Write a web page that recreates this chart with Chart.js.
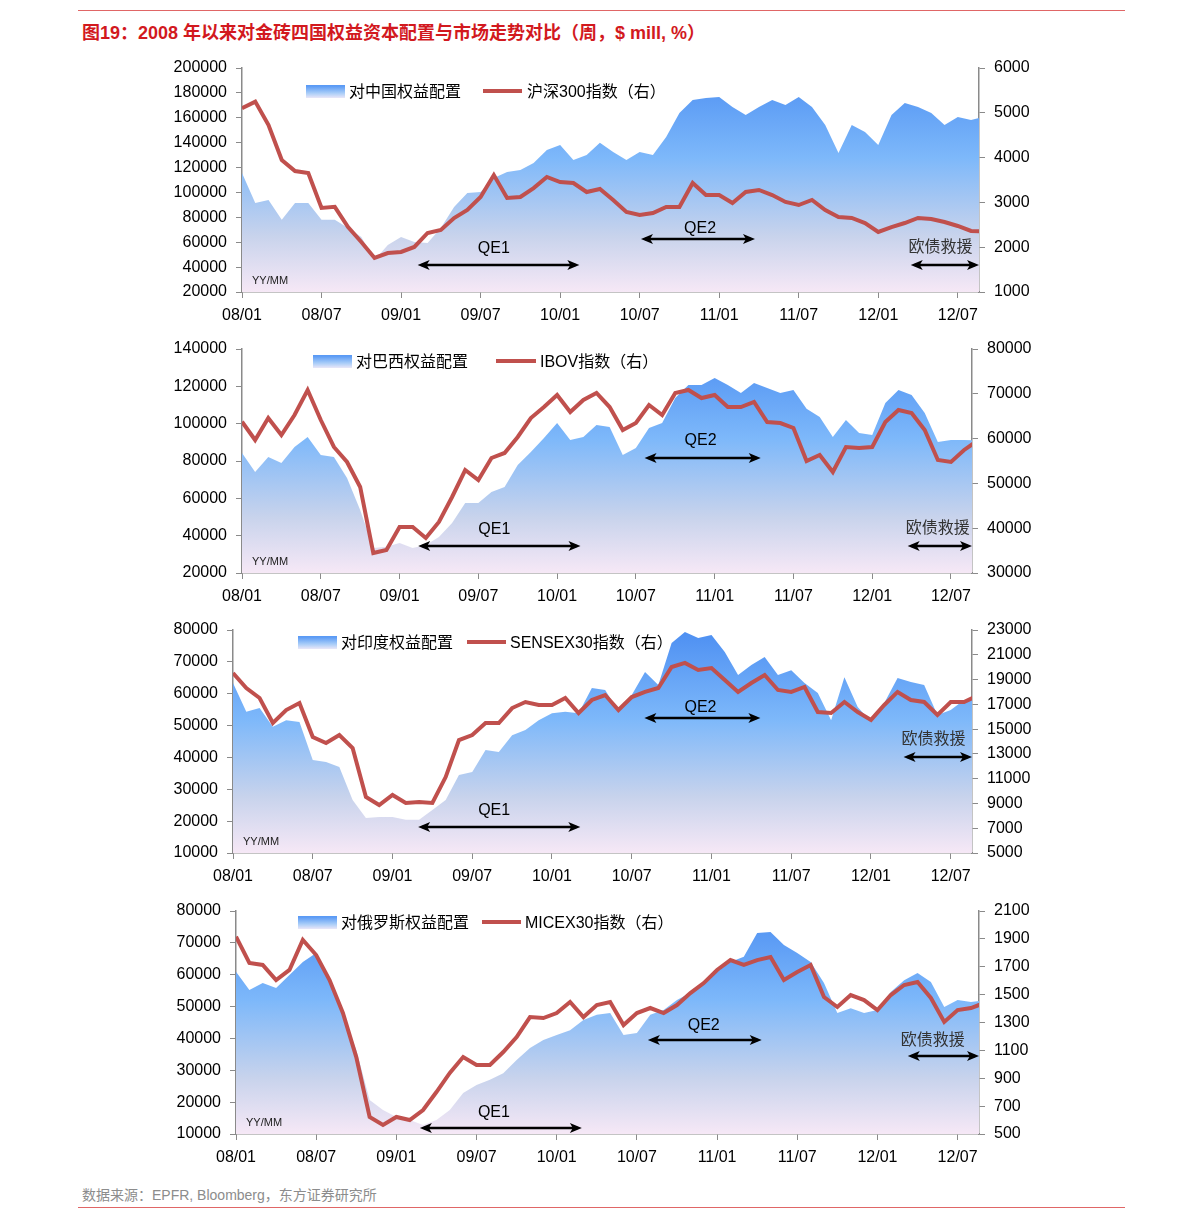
<!DOCTYPE html>
<html>
<head>
<meta charset="utf-8">
<script src="https://cdn.jsdelivr.net/npm/chart.js@4.4.1/dist/chart.umd.min.js"></script>
<style>
  body { margin: 0; background: #fff; width: 1191px; height: 1220px; position: relative; overflow: hidden;
         font-family: "Liberation Sans", "Noto Sans CJK SC", sans-serif; }
  .rule { position: absolute; left: 78px; width: 1047px; height: 1px; background: #e06666; }
  #title { position: absolute; left: 82px; top: 18px; font-size: 18px; font-weight: bold; color: #d2191e; white-space: nowrap; }
  #source { position: absolute; left: 82px; top: 1184px; font-size: 14px; color: #8c8c8c; white-space: nowrap; }
  canvas { position: absolute; left: 0; }
</style>
</head>
<body>
<div class="rule" style="top:10px"></div>
<div id="title">图19：2008 年以来对金砖四国权益资本配置与市场走势对比（周，$ mill, %）</div>
<canvas id="c1"></canvas>
<canvas id="c2"></canvas>
<canvas id="c3"></canvas>
<canvas id="c4"></canvas>
<div id="source">数据来源：EPFR, Bloomberg，东方证券研究所</div>
<div class="rule" style="top:1207px"></div>

<script>
// x = month index, 0 = 2008/01 ... 56 = 2012/09
const tickMonths = [0, 6, 12, 18, 24, 30, 36, 42, 48, 54];
const tickLabels = ["08/01", "08/07", "09/01", "09/07", "10/01", "10/07", "11/01", "11/07", "12/01", "12/07"];

// 权益配置 ($ mill), monthly readings
const chinaFlow = [115600, 91500, 94000, 78000, 91500, 91500, 78000, 78000, 71400, 64200,
  45700, 57800, 64200, 60200, 59400, 71400, 88300, 99500, 100300, 111600,
  116400, 118000, 123600, 134100, 138100, 126100, 130100, 140000, 132500, 126100,
  132500, 130100, 144600, 163800, 174300, 175900, 176700, 168600, 162200, 168600,
  174300, 170300, 176700, 168600, 154200, 131700, 154200, 148600, 138100, 162200,
  171900, 168600, 163800, 154200, 160600, 158200, 161000];
const brazilFlow = [84300, 74100, 82100, 78900, 87500, 92900, 83200, 82100, 70900, 53800,
  33400, 34000, 36100, 33400, 35000, 39300, 46800, 57500, 57500, 63400,
  66100, 77900, 84800, 92300, 100400, 91300, 92900, 99300, 98200, 83200,
  87000, 97700, 100400, 113800, 120700, 120700, 124500, 120700, 116400, 121800,
  119100, 116400, 118000, 108000, 103600, 92900, 102000, 95000, 93900, 111100,
  118000, 115400, 105700, 90200, 91300, 91300, 91000];
const indiaFlow = [63400, 54300, 55500, 49600, 51700, 51100, 39200, 38600, 37000, 26600,
  21000, 21300, 21300, 20400, 20400, 23500, 26600, 34500, 35400, 42300,
  41700, 47000, 48600, 51700, 53900, 54300, 53900, 61800, 61200, 54300,
  59600, 66800, 62700, 75900, 79400, 77500, 78400, 73100, 65900, 69000,
  71500, 65900, 67400, 63400, 60200, 51700, 65200, 55800, 51100, 57100,
  64900, 63700, 62700, 53300, 54900, 58000, 58000];
const russiaFlow = [60900, 55200, 57400, 55800, 59900, 64000, 66800, 59000, 47400, 36400,
  20700, 17500, 15300, 14400, 12800, 14400, 17500, 22900, 25400, 27000,
  29100, 33200, 37000, 39500, 41100, 42600, 45800, 47400, 48000, 41100,
  41700, 47400, 48900, 52100, 54300, 57400, 60900, 64000, 65600, 73100,
  73400, 69300, 66800, 64000, 57400, 48000, 49500, 48000, 48900, 54600,
  58300, 60500, 57700, 49900, 52100, 51400, 52000];

// 指数 (右轴)
const hs300 = [5100, 5250, 4728, 3946, 3700, 3656, 2875, 2900, 2450, 2116,
  1760, 1870, 1893, 2005, 2317, 2384, 2652, 2830, 3120, 3610,
  3100, 3120, 3320, 3567, 3455, 3433, 3232, 3300, 3054, 2786,
  2719, 2763, 2900, 2900, 3433, 3165, 3165, 2987, 3232, 3277,
  3165, 3010, 2942, 3054, 2830, 2674, 2652, 2540, 2340, 2450,
  2540, 2652, 2630, 2563, 2474, 2362, 2350];
const ibov = [63770, 59690, 64600, 60800, 65270, 70850, 64150, 58130, 54780, 49200,
  34470, 35140, 40270, 40270, 37810, 41390, 46970, 52990, 50760, 55670,
  56790, 60360, 64600, 67050, 69730, 65940, 68620, 70180, 67050, 61920,
  63480, 67500, 65270, 70180, 70850, 69060, 69730, 67050, 67050, 68170,
  63700, 63480, 62370, 55000, 56340, 52550, 58130, 57900, 58130, 63700,
  66380, 65710, 61920, 55230, 54780, 57460, 59500];
const sensex = [19530, 18320, 17510, 15490, 16540, 17110, 14360, 13880, 14520, 13470,
  9520, 8870, 9680, 9040, 9120, 9040, 11130, 14120, 14520, 15490,
  15490, 16700, 17190, 16950, 16950, 17510, 16300, 17350, 17750, 16540,
  17590, 18000, 18320, 20010, 20340, 19770, 19930, 18960, 18000, 18720,
  19370, 18160, 18000, 18400, 16380, 16300, 17190, 16380, 15740, 16950,
  18000, 17350, 17190, 16140, 17190, 17190, 17700];
const micex = [1916, 1727, 1713, 1605, 1677, 1892, 1784, 1605, 1368, 1052,
  622, 565, 622, 600, 672, 801, 938, 1052, 995, 995,
  1088, 1196, 1339, 1332, 1368, 1447, 1339, 1425, 1447, 1282,
  1368, 1404, 1368, 1425, 1511, 1583, 1677, 1748, 1713, 1748,
  1770, 1605, 1662, 1713, 1483, 1411, 1497, 1461, 1389, 1497,
  1569, 1590, 1476, 1304, 1389, 1404, 1440];

const FONT = '"Liberation Sans", "Noto Sans CJK SC", sans-serif';
const PAD_TOP = 22;
const X_AXIS_H = 40;
Chart.defaults.font.family = FONT;
Chart.defaults.color = "#000";

const toPoints = arr => arr.map((v, i) => ({ x: i, y: v }));

function areaGradient(ctx) {
  const area = ctx.chart.chartArea;
  if (!area) return "#8cbcf5";
  const g = ctx.chart.ctx.createLinearGradient(0, area.top, 0, area.bottom);
  g.addColorStop(0, "#4d8ff2");
  g.addColorStop(0.4, "#7db8fa");
  g.addColorStop(0.75, "#c8d3ec");
  g.addColorStop(1, "#f6e8f6");
  return g;
}

function arrow(c, x1, x2, y) {
  const hl = 12, hw = 5;
  c.save();
  c.strokeStyle = "#000";
  c.fillStyle = "#000";
  c.lineWidth = 2.5;
  c.beginPath();
  c.moveTo(x1 + 4, y);
  c.lineTo(x2 - 4, y);
  c.stroke();
  c.beginPath();
  c.moveTo(x1, y); c.lineTo(x1 + hl, y - hw); c.lineTo(x1 + hl - 3, y); c.lineTo(x1 + hl, y + hw); c.closePath();
  c.fill();
  c.beginPath();
  c.moveTo(x2, y); c.lineTo(x2 - hl, y - hw); c.lineTo(x2 - hl + 3, y); c.lineTo(x2 - hl, y + hw); c.closePath();
  c.fill();
  c.restore();
}

// legend + QE / 欧债救援 notes
const decorPlugin = {
  id: "decor",
  afterDatasetsDraw(chart, args, opts) {
    const c = chart.ctx;
    const area = chart.chartArea;
    const xs = chart.scales.x, ys = chart.scales.y;
    // notes
    opts.notes.forEach(n => {
      arrow(c, xs.getPixelForValue(n.m1), xs.getPixelForValue(n.m2), ys.getPixelForValue(n.v));
      c.save();
      c.font = "16px " + FONT;
      c.fillStyle = n.color || "#000";
      c.textAlign = "center";
      c.textBaseline = "middle";
      c.fillText(n.text, xs.getPixelForValue(n.lm), ys.getPixelForValue(n.lv));
      c.restore();
    });
    // YY/MM
    c.save();
    c.font = "11px " + FONT;
    c.fillStyle = "#222";
    c.textBaseline = "middle";
    c.fillText("YY/MM", area.left + 10, area.bottom - 11);
    // legend
    const L = opts.legend;
    const ly = area.top + L.dy;
    const g = c.createLinearGradient(0, ly - 7, 0, ly + 6);
    g.addColorStop(0, "#5a9af5");
    g.addColorStop(0.55, "#a9cdf8");
    g.addColorStop(1, "#f7ecf8");
    c.fillStyle = g;
    c.fillRect(L.box, ly - 8, 39, 13);
    c.font = "16px " + FONT;
    c.fillStyle = "#000";
    c.textBaseline = "middle";
    c.fillText(chart.data.datasets[1].label, L.boxText, ly);
    c.strokeStyle = "#c0504d";
    c.lineWidth = 4;
    c.beginPath();
    c.moveTo(L.line1, ly - 2);
    c.lineTo(L.line2, ly - 2);
    c.stroke();
    c.fillText(chart.data.datasets[0].label, L.lineText, ly);
    c.restore();
  }
};

function makePanel(id, p) {
  const cv = document.getElementById(id);
  cv.width = 1191;
  cv.height = (p.bottom - p.top) + PAD_TOP + X_AXIS_H;
  cv.style.top = (p.top - PAD_TOP) + "px";
  const axisGrid = { drawOnChartArea: false, tickLength: 6, color: "#8a8a8a", lineWidth: 1 };
  const axisBorder = { color: "#8a8a8a", width: 1.5 };
  const tickFont = { size: 16, family: FONT };
  new Chart(cv, {
    type: "line",
    plugins: [decorPlugin],
    data: {
      datasets: [
        { label: p.indexName, data: toPoints(p.index), yAxisID: "y1", borderColor: "#c0504d",
          borderWidth: 4, pointRadius: 0, fill: false, tension: 0, order: 1 },
        { label: p.flowName, data: toPoints(p.flow), yAxisID: "y", fill: "start",
          backgroundColor: areaGradient, borderColor: "rgba(0,0,0,0)", borderWidth: 0,
          pointRadius: 0, tension: 0, order: 2 }
      ]
    },
    options: {
      responsive: false,
      animation: false,
      layout: { padding: { top: PAD_TOP, left: 0, right: 0, bottom: 0 } },
      plugins: {
        legend: { display: false },
        tooltip: { enabled: false },
        decor: { legend: p.legend, notes: p.notes }
      },
      scales: {
        x: {
          type: "linear", min: 0, max: 55.6,
          afterBuildTicks: s => { s.ticks = tickMonths.map(v => ({ value: v })); },
          ticks: { callback: (v, i) => tickLabels[i], font: tickFont, color: "#000", padding: 8,
                   maxRotation: 0, autoSkip: false },
          grid: axisGrid, border: axisBorder,
          afterFit: s => { s.height = X_AXIS_H; }
        },
        y: {
          position: "left", min: p.left.min, max: p.left.max,
          ticks: { stepSize: p.left.step, callback: v => String(v), font: tickFont, color: "#000", padding: 9 },
          grid: axisGrid, border: axisBorder,
          afterFit: s => { s.width = p.x0; }
        },
        y1: {
          position: "right", min: p.right.min, max: p.right.max,
          ticks: { stepSize: p.right.step, callback: v => String(v), font: tickFont, color: "#000", padding: 9 },
          grid: axisGrid, border: axisBorder,
          afterFit: s => { s.width = 1191 - p.x1; }
        }
      }
    }
  });
}

makePanel("c1", {
  top: 68, bottom: 292, x0: 242, x1: 979,
  flow: chinaFlow, index: hs300, flowName: "对中国权益配置", indexName: "沪深300指数（右）",
  left: { min: 20000, max: 200000, step: 20000 }, right: { min: 1000, max: 6000, step: 1000 },
  legend: { dy: 25, box: 306, boxText: 349, line1: 483, line2: 522, lineText: 527 },
  notes: [
    { m1: 13.25, m2: 25.45, v: 41700, text: "QE1", lm: 19.0, lv: 54500 },
    { m1: 30.1, m2: 38.7, v: 62600, text: "QE2", lm: 34.56, lv: 70600 },
    { m1: 50.45, m2: 55.6, v: 41700, text: "欧债救援", lm: 52.7, lv: 55350, color: "#333" }
  ]
});
makePanel("c2", {
  top: 349, bottom: 573, x0: 242, x1: 972,
  flow: brazilFlow, index: ibov, flowName: "对巴西权益配置", indexName: "IBOV指数（右）",
  left: { min: 20000, max: 140000, step: 20000 }, right: { min: 30000, max: 80000, step: 10000 },
  legend: { dy: 14, box: 313, boxText: 356, line1: 496, line2: 536, lineText: 540 },
  notes: [
    { m1: 13.42, m2: 25.78, v: 34470, text: "QE1", lm: 19.22, lv: 43040 },
    { m1: 30.66, m2: 39.51, v: 81610, text: "QE2", lm: 34.93, lv: 90720 },
    { m1: 50.7, m2: 55.6, v: 34470, text: "欧债救援", lm: 53.0, lv: 43570, color: "#333" }
  ]
});
makePanel("c3", {
  top: 630, bottom: 853, x0: 233, x1: 972,
  flow: indiaFlow, index: sensex, flowName: "对印度权益配置", indexName: "SENSEX30指数（右）",
  left: { min: 10000, max: 80000, step: 10000 }, right: { min: 5000, max: 23000, step: 2000 },
  legend: { dy: 14, box: 298, boxText: 341, line1: 467, line2: 506, lineText: 510 },
  notes: [
    { m1: 13.93, m2: 26.13, v: 18160, text: "QE1", lm: 19.65, lv: 23180 },
    { m1: 30.95, m2: 39.68, v: 52380, text: "QE2", lm: 35.17, lv: 55520 },
    { m1: 50.45, m2: 55.6, v: 40130, text: "欧债救援", lm: 52.7, lv: 45470, color: "#333" }
  ]
});
makePanel("c4", {
  top: 911, bottom: 1134, x0: 236, x1: 979,
  flow: russiaFlow, index: micex, flowName: "对俄罗斯权益配置", indexName: "MICEX30指数（右）",
  left: { min: 10000, max: 80000, step: 10000 }, right: { min: 500, max: 2100, step: 200 },
  legend: { dy: 13, box: 298, boxText: 341, line1: 482, line2: 521, lineText: 525 },
  notes: [
    { m1: 13.76, m2: 25.88, v: 11880, text: "QE1", lm: 19.3, lv: 16590 },
    { m1: 30.82, m2: 39.34, v: 39510, text: "QE2", lm: 35.0, lv: 43900 },
    { m1: 50.27, m2: 55.6, v: 34480, text: "欧债救援", lm: 52.13, lv: 39190, color: "#333" }
  ]
});
</script>
</body>
</html>
